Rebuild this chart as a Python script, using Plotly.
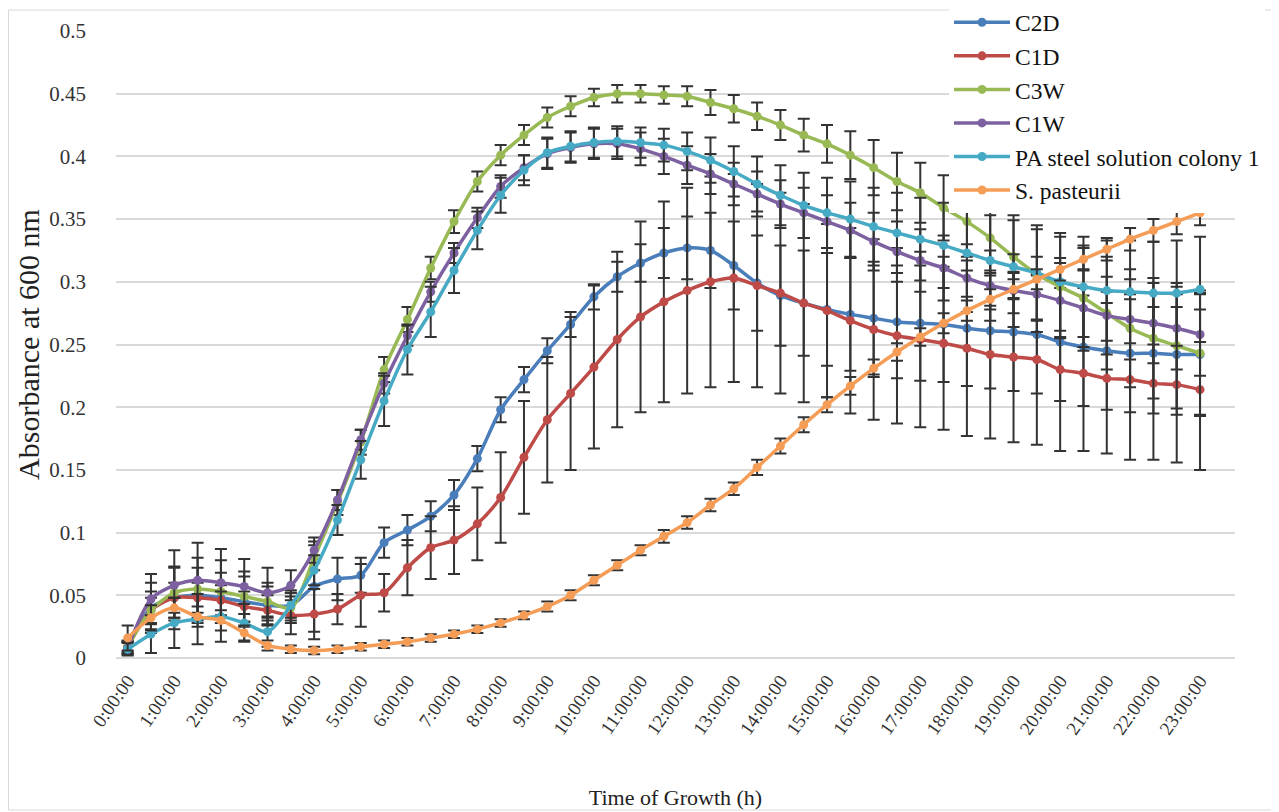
import plotly.graph_objects as go

TIME_LABELS = [
    "0:00:00", "0:30:00", "1:00:00", "1:30:00", "2:00:00", "2:30:00", "3:00:00", "3:30:00",
    "4:00:00", "4:30:00", "5:00:00", "5:30:00", "6:00:00", "6:30:00", "7:00:00", "7:30:00",
    "8:00:00", "8:30:00", "9:00:00", "9:30:00", "10:00:00", "10:30:00", "11:00:00", "11:30:00",
    "12:00:00", "12:30:00", "13:00:00", "13:30:00", "14:00:00", "14:30:00", "15:00:00", "15:30:00",
    "16:00:00", "16:30:00", "17:00:00", "17:30:00", "18:00:00", "18:30:00", "19:00:00", "19:30:00",
    "20:00:00", "20:30:00", "21:00:00", "21:30:00", "22:00:00", "22:30:00", "23:00:00",
]
ALL_CATEGORIES = TIME_LABELS + ["23:30:00"]
HOUR_TICKS = [
    "0:00:00", "1:00:00", "2:00:00", "3:00:00", "4:00:00", "5:00:00", "6:00:00", "7:00:00",
    "8:00:00", "9:00:00", "10:00:00", "11:00:00", "12:00:00", "13:00:00", "14:00:00", "15:00:00",
    "16:00:00", "17:00:00", "18:00:00", "19:00:00", "20:00:00", "21:00:00", "22:00:00", "23:00:00",
]
Y_TICKS = [0, 0.05, 0.1, 0.15, 0.2, 0.25, 0.3, 0.35, 0.4, 0.45, 0.5]
Y_TICK_TEXT = ["0", "0.05", "0.1", "0.15", "0.2", "0.25", "0.3", "0.35", "0.4", "0.45", "0.5"]

C2D = [0.008, 0.040, 0.048, 0.050, 0.048, 0.045, 0.042, 0.042, 0.057, 0.063, 0.066, 0.092,
       0.102, 0.113, 0.130, 0.159, 0.198, 0.222, 0.245, 0.266, 0.288, 0.304, 0.315, 0.323,
       0.327, 0.325, 0.313, 0.299, 0.289, 0.283, 0.278, 0.274, 0.271, 0.268, 0.267, 0.266,
       0.263, 0.261, 0.260, 0.258, 0.252, 0.248, 0.245, 0.243, 0.243, 0.242, 0.242]
C2D_ERR = [0.005, 0.020, 0.025, 0.022, 0.020, 0.020, 0.015, 0.012, 0.036, 0.017, 0.014, 0.012,
           0.012, 0.012, 0.012, 0.010, 0.010, 0.010, 0.010, 0.010, 0.010, 0.012, 0.015, 0.020,
           0.025, 0.030, 0.035, 0.038, 0.040, 0.042, 0.045, 0.045, 0.045, 0.045, 0.046, 0.046,
           0.046, 0.046, 0.047, 0.047, 0.047, 0.047, 0.047, 0.047, 0.048, 0.048, 0.048]

C1D = [0.009, 0.038, 0.048, 0.048, 0.046, 0.041, 0.038, 0.034, 0.035, 0.039, 0.050, 0.052,
       0.072, 0.088, 0.094, 0.107, 0.128, 0.160, 0.190, 0.211, 0.232, 0.254, 0.272, 0.284,
       0.293, 0.300, 0.303, 0.297, 0.291, 0.283, 0.277, 0.269, 0.262, 0.257, 0.254, 0.251,
       0.247, 0.242, 0.240, 0.238, 0.230, 0.227, 0.223, 0.222, 0.219, 0.218, 0.214]
C1D_ERR = [0.004, 0.010, 0.012, 0.012, 0.012, 0.012, 0.012, 0.015, 0.020, 0.012, 0.025, 0.015,
           0.022, 0.025, 0.027, 0.029, 0.036, 0.045, 0.050, 0.061, 0.065, 0.070, 0.076, 0.080,
           0.082, 0.084, 0.083, 0.081, 0.080, 0.079, 0.069, 0.074, 0.072, 0.070, 0.070, 0.069,
           0.070, 0.067, 0.068, 0.068, 0.065, 0.062, 0.060, 0.064, 0.061, 0.062, 0.064]

C3W = [0.009, 0.038, 0.052, 0.055, 0.053, 0.049, 0.045, 0.040, 0.080, 0.124, 0.172, 0.230,
       0.270, 0.311, 0.348, 0.380, 0.401, 0.417, 0.431, 0.440, 0.447, 0.450, 0.450, 0.449,
       0.448, 0.443, 0.438, 0.432, 0.425, 0.417, 0.410, 0.401, 0.391, 0.380, 0.371, 0.359,
       0.348, 0.335, 0.320, 0.306, 0.296, 0.287, 0.275, 0.263, 0.255, 0.249, 0.243]
C3W_ERR = [0.005, 0.015, 0.020, 0.025, 0.025, 0.020, 0.015, 0.012, 0.010, 0.010, 0.010, 0.010,
           0.010, 0.009, 0.009, 0.008, 0.008, 0.008, 0.008, 0.008, 0.007, 0.007, 0.007, 0.007,
           0.008, 0.010, 0.011, 0.011, 0.012, 0.013, 0.015, 0.019, 0.022, 0.023, 0.024, 0.026,
           0.028, 0.030, 0.033, 0.036, 0.040, 0.042, 0.045, 0.047, 0.048, 0.050, 0.050]

C1W = [0.008, 0.047, 0.058, 0.062, 0.060, 0.057, 0.052, 0.058, 0.086, 0.126, 0.174, 0.219,
       0.257, 0.292, 0.323, 0.351, 0.376, 0.391, 0.402, 0.407, 0.410, 0.410, 0.406, 0.400,
       0.393, 0.386, 0.378, 0.370, 0.362, 0.355, 0.348, 0.341, 0.332, 0.324, 0.317, 0.311,
       0.303, 0.297, 0.293, 0.290, 0.285, 0.279, 0.273, 0.270, 0.267, 0.263, 0.258]
C1W_ERR = [0.005, 0.020, 0.028, 0.030, 0.027, 0.022, 0.020, 0.012, 0.010, 0.008, 0.008, 0.008,
           0.008, 0.008, 0.008, 0.008, 0.009, 0.010, 0.012, 0.012, 0.012, 0.012, 0.013, 0.014,
           0.015, 0.016, 0.017, 0.018, 0.019, 0.020, 0.021, 0.022, 0.023, 0.024, 0.025, 0.026,
           0.027, 0.028, 0.029, 0.030, 0.030, 0.031, 0.031, 0.032, 0.032, 0.033, 0.033]

PA = [0.007, 0.019, 0.028, 0.031, 0.033, 0.028, 0.021, 0.042, 0.070, 0.110, 0.158, 0.205,
      0.246, 0.276, 0.309, 0.341, 0.369, 0.389, 0.403, 0.408, 0.411, 0.412, 0.411, 0.409,
      0.404, 0.397, 0.388, 0.378, 0.369, 0.361, 0.355, 0.350, 0.344, 0.339, 0.334, 0.329,
      0.323, 0.317, 0.312, 0.307, 0.300, 0.296, 0.293, 0.292, 0.291, 0.291, 0.294]
PA_ERR = [0.005, 0.015, 0.020, 0.020, 0.020, 0.015, 0.012, 0.010, 0.012, 0.012, 0.015, 0.020,
          0.020, 0.020, 0.018, 0.015, 0.014, 0.012, 0.012, 0.012, 0.012, 0.012, 0.012, 0.013,
          0.015, 0.018, 0.020, 0.022, 0.024, 0.026, 0.028, 0.030, 0.031, 0.032, 0.033, 0.034,
          0.035, 0.036, 0.037, 0.038, 0.039, 0.040, 0.040, 0.041, 0.041, 0.042, 0.042]

SP = [0.016, 0.032, 0.040, 0.033, 0.030, 0.020, 0.010, 0.007, 0.006, 0.007, 0.009, 0.011,
      0.013, 0.016, 0.019, 0.023, 0.028, 0.034, 0.041, 0.050, 0.062, 0.074, 0.086, 0.097,
      0.108, 0.122, 0.135, 0.152, 0.169, 0.186, 0.202, 0.217, 0.231, 0.244, 0.256, 0.267,
      0.277, 0.286, 0.294, 0.302, 0.310, 0.318, 0.326, 0.334, 0.341, 0.348, 0.355]
SP_ERR = [0.010, 0.010, 0.008, 0.008, 0.008, 0.006, 0.004, 0.003, 0.003, 0.003, 0.003, 0.003,
          0.003, 0.003, 0.003, 0.003, 0.003, 0.003, 0.004, 0.004, 0.004, 0.004, 0.004, 0.005,
          0.005, 0.005, 0.005, 0.006, 0.006, 0.006, 0.006, 0.007, 0.007, 0.007, 0.007, 0.008,
          0.008, 0.008, 0.008, 0.008, 0.009, 0.009, 0.009, 0.009, 0.009, 0.010, 0.010]

SERIES = [
    ("C2D", C2D, C2D_ERR, "#4A7EBB"),
    ("C1D", C1D, C1D_ERR, "#BE4B48"),
    ("C3W", C3W, C3W_ERR, "#98B954"),
    ("C1W", C1W, C1W_ERR, "#7D60A0"),
    ("PA steel solution colony 1", PA, PA_ERR, "#46AAC5"),
    ("S. pasteurii", SP, SP_ERR, "#F59D56"),
]

FONT = "Liberation Serif, Times New Roman, serif"

# figure geometry (the page body adds an 8 px offset)
W, H = 1271, 804
L, T, R, B = 108, 23, 44, 154
PW, PH = W - L - R, H - T - B


def px(x):
    return (x - L) / PW


def py(y):
    return (H - B - y) / PH


fig = go.Figure()
for k, (name, vals, errs, color) in enumerate(SERIES):
    fig.add_trace(go.Scatter(
        x=TIME_LABELS, y=vals, name=name, mode="lines+markers",
        legendgroup=f"g{k}",
        line=dict(color=color, width=3.5, shape="spline", smoothing=0.8),
        marker=dict(color=color, size=9, symbol="circle"),
        error_y=dict(type="data", array=errs, visible=True, color="#333333",
                     thickness=2, width=6),
    ))

# outer chart border
fig.add_shape(type="rect", xref="paper", yref="paper",
              x0=px(0.5), x1=px(1269), y0=py(802), y1=py(2),
              line=dict(color="#D9D9D9", width=1), fillcolor="rgba(0,0,0,0)", layer="below")

fig.update_layout(
    width=W, height=H,
    margin=dict(l=L, r=R, t=T, b=B, autoexpand=False),
    plot_bgcolor="white", paper_bgcolor="white",
    font=dict(family=FONT, color="#222222", size=19),
    showlegend=True,
    legend=dict(x=px(941), y=py(-7.5), xanchor="left", yanchor="top",
                bgcolor="white", font=dict(family=FONT, size=23.5, color="#111111"),
                tracegroupgap=0, itemwidth=56),
    xaxis=dict(
        type="category", categoryorder="array", categoryarray=ALL_CATEGORIES,
        range=[-0.5, 47.5], tickmode="array", tickvals=HOUR_TICKS, ticktext=HOUR_TICKS,
        tickangle=-55, showgrid=False, showline=False, zeroline=False, ticks="",
        tickfont=dict(family=FONT, size=19, color="#333333"), ticklabelstandoff=7,
        title=dict(text="Time of Growth (h)", font=dict(family=FONT, size=22, color="#222222"),
                   standoff=52),
        automargin=False,
    ),
    yaxis=dict(
        range=[0, 0.5], tickmode="array", tickvals=Y_TICKS, ticktext=Y_TICK_TEXT,
        showgrid=True, gridcolor="#D9D9D9", gridwidth=1.5, zeroline=True,
        zerolinecolor="#D9D9D9", zerolinewidth=1.5, showline=False, ticks="",
        tickfont=dict(family=FONT, size=21, color="#333333"), ticklabelstandoff=29,
        title=dict(text="Absorbance at 600 nm", font=dict(family=FONT, size=30, color="#222222"),
                   standoff=0),
        automargin=False,
    ),
)

fig.write_html("out.html")
